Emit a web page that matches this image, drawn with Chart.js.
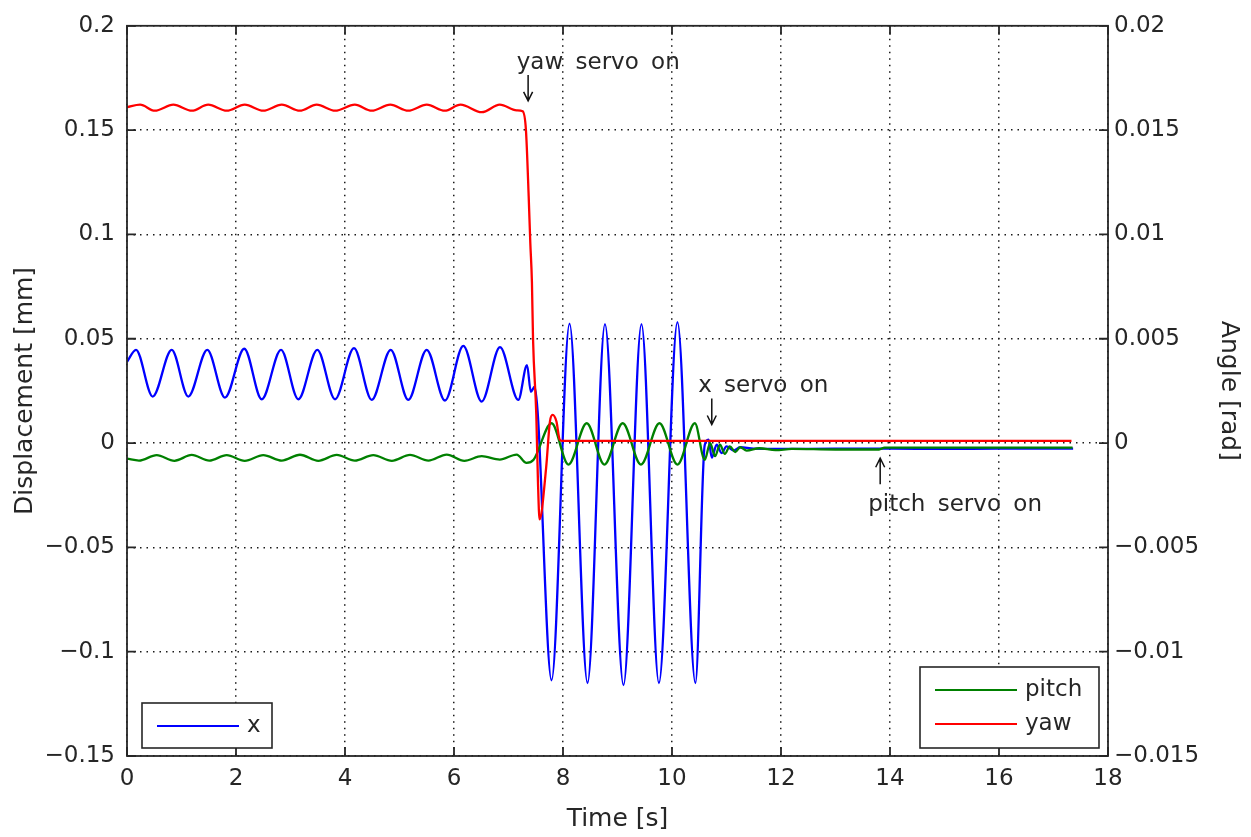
<!DOCTYPE html>
<html>
<head>
<meta charset="utf-8">
<script src="https://cdn.jsdelivr.net/npm/chart.js@4.4.0/dist/chart.umd.min.js"></script>
<style>
  body { margin: 0; background: #fff; }
  canvas { display: block; }
</style>
</head>
<body>
<canvas id="chart" width="1251" height="837"></canvas>
<script>
// x displacement [mm] (left axis)
const timeX = [0, 0.165, 0.472, 0.82, 1.125, 1.473, 1.798, 2.152, 2.472, 2.826, 3.143, 3.492, 3.817, 4.165, 4.49,
  4.839, 5.161, 5.499, 5.835, 6.171, 6.508, 6.844, 7.18, 7.34, 7.41, 7.48, 7.79, 8.12, 8.45, 8.77, 9.11, 9.44,
  9.76, 10.1, 10.43, 10.6, 10.67, 10.73, 10.82, 10.91, 11.0, 11.13, 11.25, 11.5, 12.0, 13.0, 14.0, 15.0, 16.0, 17.36];
const dispX = [0.039, 0.0447, 0.0223, 0.0447, 0.0223, 0.0447, 0.0218, 0.0452, 0.021, 0.0447, 0.021, 0.0447, 0.021,
  0.0455, 0.0207, 0.0447, 0.0207, 0.0447, 0.0204, 0.0466, 0.0199, 0.046, 0.0207, 0.0374, 0.0245, 0.027, -0.1137,
  0.0572, -0.115, 0.057, -0.116, 0.057, -0.115, 0.058, -0.115, -0.001, 0.0016, -0.007, -0.0008, -0.0048, -0.0016,
  -0.0036, -0.002, -0.0027, -0.0028, -0.0027, -0.0027, -0.0028, -0.0027, -0.0027];

// pitch angle [rad] (right axis)
const timePitch = [0, 0.22, 0.545, 0.87, 1.187, 1.51, 1.829, 2.16, 2.5, 2.84, 3.174, 3.51, 3.848, 4.18, 4.519, 4.86,
  5.193, 5.53, 5.866, 6.19, 6.508, 6.84, 7.15, 7.33, 7.46, 7.79, 8.10, 8.435, 8.76, 9.095, 9.43, 9.77, 10.1, 10.42,
  10.6, 10.7, 10.79, 10.88, 10.97, 11.06, 11.16, 11.25, 11.37, 11.6, 11.9, 12.2, 13.0, 13.8, 13.9, 15.0, 16.0, 17.35];
const anglePitch = [-0.00075, -0.00084, -0.00058, -0.00085, -0.00057, -0.00084, -0.00058, -0.00085, -0.00058,
  -0.00084, -0.00056, -0.00085, -0.00057, -0.00084, -0.00058, -0.00085, -0.00057, -0.00084, -0.00055, -0.00085,
  -0.00063, -0.00079, -0.00055, -0.00095, -0.0008, 0.00095, -0.00103, 0.00095, -0.00103, 0.00095, -0.00103,
  0.00095, -0.00103, 0.00095, -0.0008, 0.0, -0.00063, -0.00008, -0.00052, -0.00016, -0.00043, -0.0002, -0.00036,
  -0.00025, -0.00034, -0.00028, -0.00031, -0.00031, -0.00022, -0.00022, -0.00022, -0.00022];

// yaw angle [rad] (right axis)
const timeYaw = [0, 0.24, 0.51, 0.85, 1.19, 1.49, 1.83, 2.16, 2.5, 2.84, 3.17, 3.48, 3.82, 4.18, 4.49, 4.83, 5.16,
  5.5, 5.83, 6.12, 6.51, 6.84, 7.15, 7.26, 7.32, 7.37, 7.40, 7.43, 7.45, 7.51, 7.54, 7.57, 7.69, 7.76, 7.81, 7.88,
  7.94, 8.0, 9.0, 10.0, 11.0, 12.0, 14.0, 16.0, 17.33];
const angleYaw = [0.0161, 0.01622, 0.01593, 0.01622, 0.01593, 0.01622, 0.01593, 0.01622, 0.01593, 0.01622, 0.01593,
  0.01622, 0.01593, 0.01622, 0.01593, 0.01622, 0.01593, 0.01622, 0.01593, 0.01622, 0.01586, 0.01622, 0.01595,
  0.0159, 0.015, 0.01185, 0.0096, 0.0077, 0.005, 0.00135, -0.0018, -0.00366, -0.0012, 0.00103, 0.00135, 0.00103,
  0.00016, 0.0001, 0.0001, 0.0001, 0.0001, 0.0001, 0.0001, 0.0001, 0.0001];

const timeTicks = [0, 2, 4, 6, 8, 10, 12, 14, 16, 18];
const dispTicks = [-0.15, -0.1, -0.05, 0, 0.05, 0.1, 0.15, 0.2];
const dispTickLabels = ['\u22120.15', '\u22120.1', '\u22120.05', '0', '0.05', '0.1', '0.15', '0.2'];
const angleTicks = [-0.015, -0.01, -0.005, 0, 0.005, 0.01, 0.015, 0.02];
const angleTickLabels = ['\u22120.015', '\u22120.01', '\u22120.005', '0', '0.005', '0.01', '0.015', '0.02'];

// annotations in data coordinates of the left axis
const notes = [
  { text: 'yaw servo on', t: 7.15, y: 0.182, arrowT: 7.36, from: 0.1764, to: 0.164 },
  { text: 'x servo on', t: 10.48, y: 0.0275, arrowT: 10.73, from: 0.0213, to: 0.0089 },
  { text: 'pitch servo on', t: 13.6, y: -0.0297, arrowT: 13.82, from: -0.0197, to: -0.0073 }
];

const toPoints = (ts, vs) => ts.map((t, i) => ({ x: t, y: vs[i] }));
const ink = '#262626';
const gridInk = '#1a1a1a';
const tickFont = { family: 'DejaVu Sans', size: 23 };
const titleFont = { family: 'DejaVu Sans', size: 25 };

function drawArrow(ctx, x, y0, y1) {
  const dir = y1 > y0 ? 1 : -1;
  ctx.beginPath();
  ctx.moveTo(x, y0);
  ctx.lineTo(x, y1);
  ctx.moveTo(x - 4.5, y1 - dir * 9);
  ctx.lineTo(x, y1);
  ctx.lineTo(x + 4.5, y1 - dir * 9);
  ctx.stroke();
}

function drawLegendBox(ctx, x, y, w, h, items) {
  ctx.fillStyle = '#fff';
  ctx.fillRect(x, y, w, h);
  ctx.strokeStyle = ink;
  ctx.lineWidth = 1.6;
  ctx.strokeRect(x, y, w, h);
  items.forEach((ds, i) => {
    const rowY = y + 23 + i * 34;
    ctx.strokeStyle = ds.borderColor;
    ctx.lineWidth = 2;
    ctx.beginPath();
    ctx.moveTo(x + 15, rowY);
    ctx.lineTo(x + 97, rowY);
    ctx.stroke();
    ctx.fillStyle = ink;
    ctx.fillText(ds.label, x + 105, rowY);
  });
}

const decorations = {
  id: 'decorations',
  afterDraw(chart) {
    const { ctx, chartArea: a, scales } = chart;
    ctx.save();
    ctx.strokeStyle = ink;
    ctx.lineWidth = 1.8;
    ctx.strokeRect(a.left, a.top, a.width, a.height);

    // tick marks pointing into the plot
    ctx.beginPath();
    scales.x.ticks.forEach(tk => {
      const px = scales.x.getPixelForValue(tk.value);
      ctx.moveTo(px, a.bottom); ctx.lineTo(px, a.bottom - 9);
      ctx.moveTo(px, a.top); ctx.lineTo(px, a.top + 9);
    });
    scales.y.ticks.forEach(tk => {
      const py = scales.y.getPixelForValue(tk.value);
      ctx.moveTo(a.left, py); ctx.lineTo(a.left + 9, py);
    });
    scales.y2.ticks.forEach(tk => {
      const py = scales.y2.getPixelForValue(tk.value);
      ctx.moveTo(a.right, py); ctx.lineTo(a.right - 9, py);
    });
    ctx.stroke();

    // legends
    const ds = chart.data.datasets;
    ctx.font = '23px "DejaVu Sans"';
    ctx.textBaseline = 'middle';
    ctx.textAlign = 'left';
    drawLegendBox(ctx, a.left + 15, a.bottom - 53, 130, 45, [ds[0]]);
    drawLegendBox(ctx, a.right - 188, a.bottom - 89, 179, 81, [ds[1], ds[2]]);

    // annotations
    ctx.fillStyle = ink;
    ctx.strokeStyle = '#111';
    ctx.lineWidth = 1.5;
    try { ctx.wordSpacing = '5px'; } catch (e) {}
    notes.forEach(n => {
      ctx.fillText(n.text, scales.x.getPixelForValue(n.t), scales.y.getPixelForValue(n.y));
      drawArrow(ctx, scales.x.getPixelForValue(n.arrowT),
        scales.y.getPixelForValue(n.from), scales.y.getPixelForValue(n.to));
    });
    ctx.restore();
  }
};

new Chart(document.getElementById('chart'), {
  type: 'line',
  data: {
    datasets: [
      { label: 'x', data: toPoints(timeX, dispX), yAxisID: 'y', borderColor: '#0000ff', order: 3 },
      { label: 'pitch', data: toPoints(timePitch, anglePitch), yAxisID: 'y2', borderColor: '#008000', order: 2 },
      { label: 'yaw', data: toPoints(timeYaw, angleYaw), yAxisID: 'y2', borderColor: '#ff0000', order: 1 }
    ]
  },
  options: {
    responsive: false,
    animation: false,
    layout: { padding: { top: 23, left: 0, right: 0, bottom: 0 } },
    elements: {
      point: { radius: 0 },
      line: { borderWidth: 2.3, cubicInterpolationMode: 'monotone', fill: false }
    },
    plugins: { legend: { display: false }, tooltip: { enabled: false } },
    scales: {
      x: {
        type: 'linear',
        min: 0,
        max: 18,
        afterBuildTicks: s => { s.ticks = timeTicks.map(v => ({ value: v })); },
        afterFit: s => { s.height = 81; },
        ticks: { font: tickFont, color: ink, padding: 9, maxRotation: 0, callback: (v, i) => String(timeTicks[i]) },
        grid: { color: gridInk, lineWidth: 1.5, drawTicks: false },
        border: { display: false, dash: [1.5, 5] },
        title: { display: true, text: 'Time [s]', font: titleFont, color: ink, padding: { top: 0, bottom: 3 } }
      },
      y: {
        position: 'left',
        min: -0.15,
        max: 0.2,
        afterBuildTicks: s => { s.ticks = dispTicks.map(v => ({ value: v })); },
        afterFit: s => { s.width = 127; },
        ticks: { font: tickFont, color: ink, padding: 12, callback: (v, i) => dispTickLabels[i] },
        grid: { color: gridInk, lineWidth: 1.5, drawTicks: false },
        border: { display: false, dash: [1.5, 5] },
        title: { display: true, text: 'Displacement [mm]', font: titleFont, color: ink, padding: { top: 10, bottom: 0 } }
      },
      y2: {
        position: 'right',
        min: -0.015,
        max: 0.02,
        afterBuildTicks: s => { s.ticks = angleTicks.map(v => ({ value: v })); },
        afterFit: s => { s.width = 143; },
        ticks: { font: tickFont, color: ink, padding: 6, callback: (v, i) => angleTickLabels[i] },
        grid: { drawOnChartArea: false, drawTicks: false },
        border: { display: false },
        title: { display: true, text: 'Angle [rad]', font: titleFont, color: ink, padding: { top: 8, bottom: 0 } }
      }
    }
  },
  plugins: [decorations]
});
</script>
</body>
</html>
